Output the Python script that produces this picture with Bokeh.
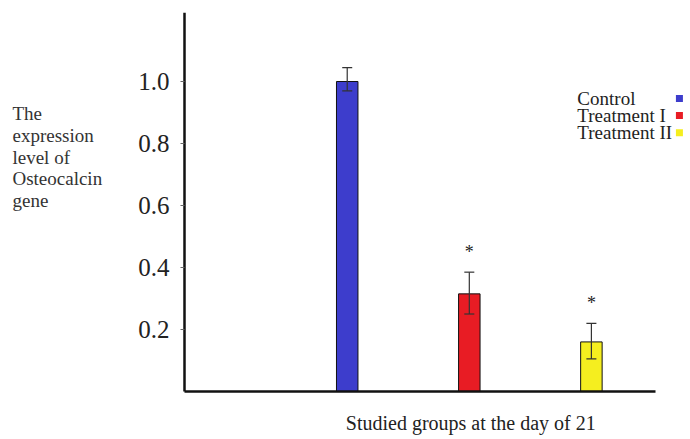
from bokeh.plotting import figure
from bokeh.models import ColumnDataSource, FixedTicker, Whisker, Range1d, PrintfTickFormatter
from bokeh.core.properties import value
from bokeh.embed import file_html
from bokeh.resources import INLINE

groups = ["Control", "Treatment I", "Treatment II"]
expression = [1.0, 0.315, 0.16]
err_upper = [1.045, 0.385, 0.22]
err_lower = [0.97, 0.25, 0.105]
significant = ["", "*", "*"]
colors = ["#3d3dcc", "#e81c24", "#f5ee1f"]
y_ticks = [0.2, 0.4, 0.6, 0.8, 1.0]
y_title_lines = ["The", "expression", "level of", "Osteocalcin", "gene"]
x_title = "Studied groups at the day of 21"

FONT = "Liberation Serif"

xs = [i + 1 for i in range(len(groups))]
src = ColumnDataSource(dict(x=xs, top=expression, upper=err_upper, lower=err_lower,
                            color=colors, star=significant,
                            star_y=[u + 0.065 for u in err_upper]))

X0 = -0.332   # data x where the y axis is drawn
Y_TOP = 1.2226
p = figure(width=690, height=439, output_backend="svg", toolbar_location=None,
           x_range=Range1d(-1.840, 3.779), y_range=Range1d(-0.1548, Y_TOP),
           min_border_left=0, min_border_right=4, min_border_top=12, min_border_bottom=0)
p.outline_line_color = None
p.grid.grid_line_color = None
p.background_fill_color = "white"

p.vbar(x="x", top="top", width=0.176, bottom=0, source=src, fill_color="color",
       line_color="#111111", line_width=1)
w = Whisker(base="x", upper="upper", lower="lower", source=src,
            line_color="#333333", line_width=1.2, level="overlay")
for h in (w.upper_head, w.lower_head):
    h.size = 10
    h.line_color = "#333333"
    h.line_width = 1.2
p.add_layout(w)

p.text(x="x", y="star_y", text="star", source=src, text_align="center",
       text_baseline="middle", text_font=value(FONT), text_font_size="18px",
       text_color="#222222")

# y axis, drawn at a fixed data location
p.yaxis.fixed_location = X0
p.yaxis.bounds = (0, Y_TOP)
p.yaxis.ticker = FixedTicker(ticks=y_ticks)
p.yaxis.formatter = PrintfTickFormatter(format="%.1f")
p.yaxis.major_label_text_font = FONT
p.yaxis.major_label_text_font_size = "25px"
p.yaxis.major_label_text_color = "#222222"
p.yaxis.major_tick_out = 4
p.yaxis.major_tick_in = 0
p.yaxis.major_tick_line_color = "#666666"
p.yaxis.minor_tick_line_color = None
p.yaxis.major_label_standoff = 11
p.yaxis.axis_line_width = 2.5
p.yaxis.axis_line_color = "#111111"

# y title as left-aligned lines
yt_y = [0.897, 0.826, 0.755, 0.687, 0.616]
p.text(x=[-1.742] * len(y_title_lines), y=yt_y, text=y_title_lines,
       text_font=value(FONT), text_font_size="19px", text_color="#333333",
       text_baseline="middle", text_align="left")

# x axis, drawn at y = 0
p.xaxis.fixed_location = 0
p.xaxis.ticker = FixedTicker(ticks=[])
p.xaxis.major_tick_out = 0
p.xaxis.major_tick_in = 0
p.xaxis.major_tick_line_color = None
p.xaxis.minor_tick_line_color = None
p.xaxis.major_label_standoff = 0
p.xaxis.axis_line_width = 2.5
p.xaxis.axis_line_color = "#111111"
p.xaxis.bounds = (X0, 3.525)

p.text(x=[2.012], y=[-0.1], text=[x_title], text_font=value(FONT),
       text_font_size="20px", text_color="#222222", text_align="center",
       text_baseline="middle")

# legend (text then coloured square)
leg_y = [0.945, 0.890, 0.835]
p.text(x=[2.885] * 3, y=leg_y, text=groups, text_font=value(FONT),
       text_font_size="19px", text_color="#222222", text_baseline="middle")
p.scatter(x=[3.721] * 3, y=leg_y, marker="square", size=7, fill_color=colors,
          line_color=None)

open("out.html", "w").write(file_html(p, INLINE))
